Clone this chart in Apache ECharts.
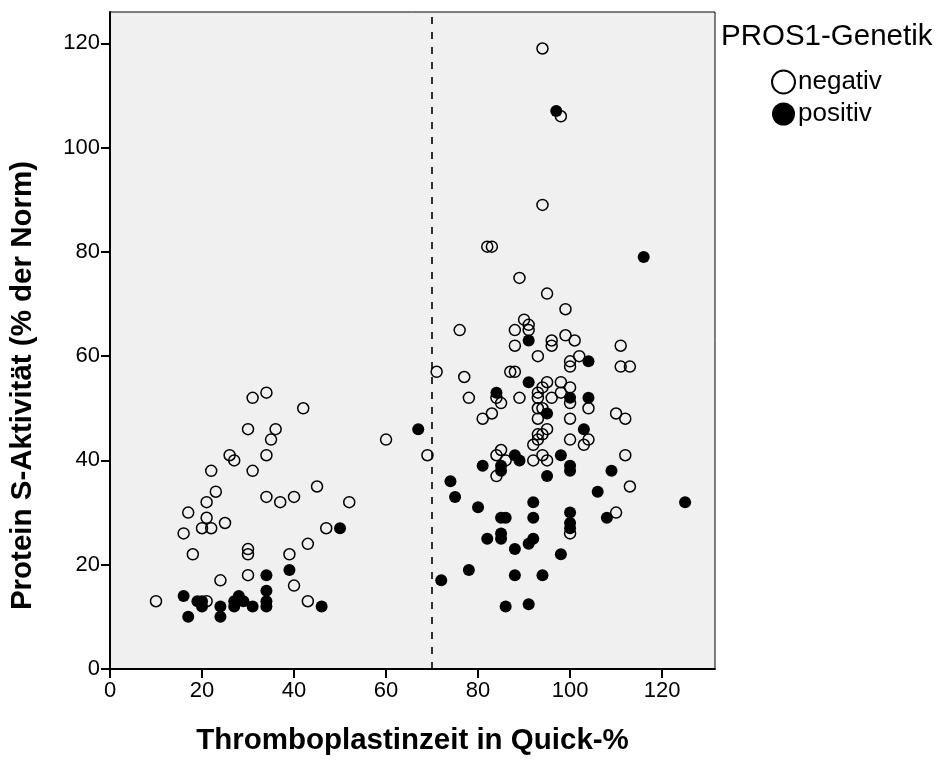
<!DOCTYPE html>
<html>
<head>
<meta charset="utf-8">
<script src="https://cdn.jsdelivr.net/npm/echarts@6/dist/echarts.min.js"></script>
<style>
  html, body { margin: 0; padding: 0; background: #ffffff; }
  #chart { width: 938px; height: 762px; }
</style>
</head>
<body>
<div id="chart"></div>
<script>
// ---- data ----
const legendTitle = 'PROS1-Genetik';
const seriesNames = ['negativ', 'positiv'];
const xTicks = [0, 20, 40, 60, 80, 100, 120];
const yTicks = [0, 20, 40, 60, 80, 100, 120];
const cutoff = 70;

// PROS1 negative (open circles): Quick-% and Protein S activity
const negX = [10,16,17,18,20,21,21,21,22,22,23,24,25,26,27,30,30,30,30,31,31,34,34,34,35,36,37,39,40,40,42,43,43,45,47,52,60,69,71,
  76,77,78,81,82,83,83,84,84,84,85,85,86,87,88,88,88,89,89,90,91,91,92,92,93,93,93,93,93,93,93,94,94,94,94,94,94,95,95,95,95,96,96,96,
  98,98,98,99,99,100,100,100,100,100,100,100,101,102,103,104,104,110,110,111,111,112,112,113,113];
const negY = [13,26,30,22,27,29,32,13,27,38,34,17,28,41,40,46,23,22,18,52,38,53,41,33,44,46,32,22,33,16,50,24,13,35,27,32,44,41,57,
  65,56,52,48,81,81,49,52,41,37,51,42,40,57,57,65,62,75,52,67,66,65,43,40,60,53,52,50,48,45,44,119,89,54,50,45,41,72,55,46,40,63,62,52,
  106,55,53,69,64,59,58,54,51,48,44,26,63,60,43,50,44,49,30,62,58,48,41,58,35];

// PROS1 positive (filled circles)
const posX = [16,17,19,20,20,24,24,27,27,28,29,31,34,34,34,34,39,46,50,67,
  72,74,75,78,80,81,82,84,85,85,85,85,85,86,86,88,88,88,89,91,91,91,91,92,92,92,95,95,94,97,98,98,100,100,100,100,100,100,103,104,104,106,109,108,116,125];
const posY = [14,10,13,13,12,12,10,13,12,14,13,12,18,15,13,12,19,12,27,46,
  17,36,33,19,31,39,25,53,39,38,29,26,25,29,12,41,23,18,40,63,55,24,12.4,32,29,25,49,37,18,107,41,22,52,39,38,30,28,27,46,59,52,34,38,29,79,32];

// ---- chart ----
const FONT = "'Liberation Sans', Arial, Helvetica, sans-serif";
const zip = (xs, ys) => xs.map((x, i) => [x, ys[i]]);

const chart = echarts.init(document.getElementById('chart'), null, { renderer: 'canvas' });
chart.setOption({
  animation: false,
  backgroundColor: '#ffffff',
  title: {
    text: legendTitle,
    left: 716, top: 17,
    textStyle: { fontFamily: FONT, fontSize: 29.5, fontWeight: 'normal', color: '#000' }
  },
  legend: {
    orient: 'vertical',
    left: 766, top: 64,
    icon: 'circle',
    itemWidth: 23, itemHeight: 23, itemGap: 6,
    data: seriesNames,
    textStyle: { fontFamily: FONT, fontSize: 26, color: '#000', padding: [5, 0, 0, -2] },
    selectedMode: false
  },
  grid: {
    left: 108, top: 12, right: 223, bottom: 93,
    show: true, backgroundColor: '#f0f0f0', borderColor: '#000', borderWidth: 1
  },
  xAxis: {
    type: 'value', min: 0, max: 131.5,
    name: 'Thromboplastinzeit in Quick-%',
    nameLocation: 'middle', nameGap: 57,
    nameTextStyle: { fontFamily: FONT, fontSize: 29.5, fontWeight: 'bold', color: '#000' },
    axisLine: { show: true, onZero: false, lineStyle: { color: '#000', width: 2 } },
    axisTick: { show: true, inside: false, length: 9, lineStyle: { color: '#000', width: 2 }, customValues: xTicks },
    axisLabel: { fontFamily: FONT, fontSize: 22, color: '#000', margin: 11, customValues: xTicks },
    splitLine: { show: false }
  },
  yAxis: {
    type: 'value', min: 0, max: 126,
    name: 'Protein S-Aktivität (% der Norm)',
    nameLocation: 'middle', nameGap: 72, nameRotate: 90,
    nameTextStyle: { fontFamily: FONT, fontSize: 29.5, fontWeight: 'bold', color: '#000', padding: [0, 90, 0, 0] },
    axisLine: { show: true, onZero: false, lineStyle: { color: '#000', width: 2 } },
    axisTick: { show: true, inside: false, length: 9, lineStyle: { color: '#000', width: 2 }, customValues: yTicks },
    axisLabel: { fontFamily: FONT, fontSize: 22, color: '#000', margin: 10, customValues: yTicks },
    splitLine: { show: false }
  },
  series: [
    {
      name: seriesNames[0],
      type: 'scatter',
      symbol: 'circle',
      symbolSize: 11,
      data: zip(negX, negY),
      itemStyle: { color: 'rgba(255,255,255,0)', borderColor: '#000', borderWidth: 1.5, opacity: 1 },
      emphasis: { disabled: true },
      z: 2,
      markLine: {
        silent: true,
        symbol: ['none', 'none'],
        label: { show: false },
        lineStyle: { color: '#000', width: 1.6, type: [7, 8] },
        emphasis: { disabled: true },
        data: [{ xAxis: cutoff }]
      }
    },
    {
      name: seriesNames[1],
      type: 'scatter',
      symbol: 'circle',
      symbolSize: 12,
      data: zip(posX, posY),
      itemStyle: { color: '#000', borderColor: '#000', borderWidth: 0, opacity: 1 },
      emphasis: { disabled: true },
      z: 3
    }
  ]
});
</script>
</body>
</html>
